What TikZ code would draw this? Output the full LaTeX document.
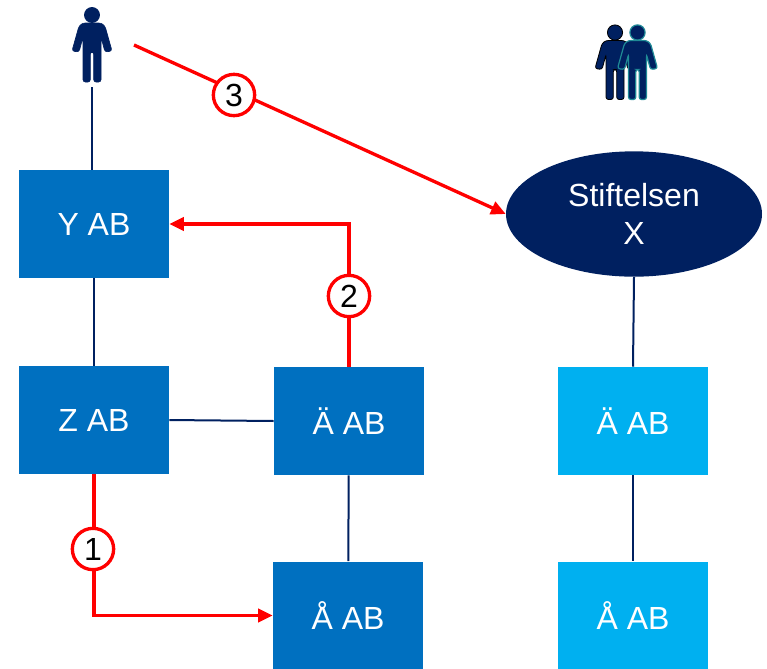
\documentclass[tikz,border=0pt]{standalone}
\usepackage{fontspec}
\setmainfont{Liberation Sans}
\usetikzlibrary{arrows.meta,shapes.geometric}
\definecolor{navy}{HTML}{002060}
\definecolor{midblue}{HTML}{0070C0}
\definecolor{skyblue}{HTML}{00B0F0}
\definecolor{tealedge}{HTML}{1F8A96}
\begin{document}
\begin{tikzpicture}[
        x=0.75pt, y=-0.75pt,
        company/.style={rectangle, fill=midblue, text=white, minimum width=112.5pt, minimum height=81pt, inner sep=0pt, font=\fontsize{24}{29}\selectfont},
        sister/.style={company, fill=skyblue},
        foundation/.style={ellipse, fill=navy, text=white, minimum width=192pt, minimum height=94pt, inner sep=0pt, align=center, font=\fontsize{24}{29}\selectfont},
        owner/.style={draw=navy, line width=1.5pt},
        move/.style={draw=red, line width=2.5pt, -{Triangle[length=11pt,width=10pt]}},
        marker/.style={circle, draw=red, fill=white, line width=2.5pt, minimum size=31pt, inner sep=0pt, font=\fontsize{24}{29}\selectfont},
        person/.pic={
            \path[pic actions] (0,0) circle (7.6);
            \path[pic actions, rounded corners=1.8pt] (-9,67) -- (-9,22) -- (-13,37) -- (-20,36) -- (-13,11) -- (-9,8) -- (9,8) -- (13,11) -- (20,36) -- (13,37) -- (9,22) -- (9,67) -- (1.7,67) -- (1.7,37) -- (-1.7,37) -- (-1.7,67) -- cycle;
        }
    ]
    \useasboundingbox (0,0) rectangle (767,668);

    % people
    \pic[fill=navy, draw=navy, line width=0.5pt] at (92,15) {person};
    \pic[fill=navy, draw=black, line width=0.6pt] at (615,32.5) {person};
    \pic[fill=navy, draw=tealedge, line width=0.9pt] at (637.5,32.5) {person};
    \coordinate (footx) at (92,87);
    \coordinate (gift) at (134,45);

    % companies
    \node[company] (yab) at (94,224) {Y AB};
    \node[company] (zab) at (94,420) {Z AB};
    \node[company] (aeab) at (349,421) {Ä AB};
    \node[company] (aaab) at (348,615.5) {Å AB};
    \node[foundation] (stift) at (634,214) {Stiftelsen\\X};
    \node[sister] (aeright) at (633,421) {Ä AB};
    \node[sister] (aaright) at (633,615.5) {Å AB};

    % ownership
    \draw[owner] (footx) -- (footx |- yab.north);
    \draw[owner] (yab) -- (zab);
    \draw[owner] (zab.east) -- (aeab.west);
    \draw[owner] (aeab) -- (aaab);
    \draw[owner] (stift.south) -- (aeright.north);
    \draw[owner] (aeright) -- (aaright);

    % transfers
    \draw[move] (zab.south) |- (aaab.west);
    \draw[move] (aeab.north) |- (yab.east);
    \draw[move] (gift) -- (stift.west);
    \node[marker] (one) at (93,549) {1};
    \node[marker] (two) at (349,296) {2};
    \node[marker] (three) at (234,95) {3};
\end{tikzpicture}
\end{document}
